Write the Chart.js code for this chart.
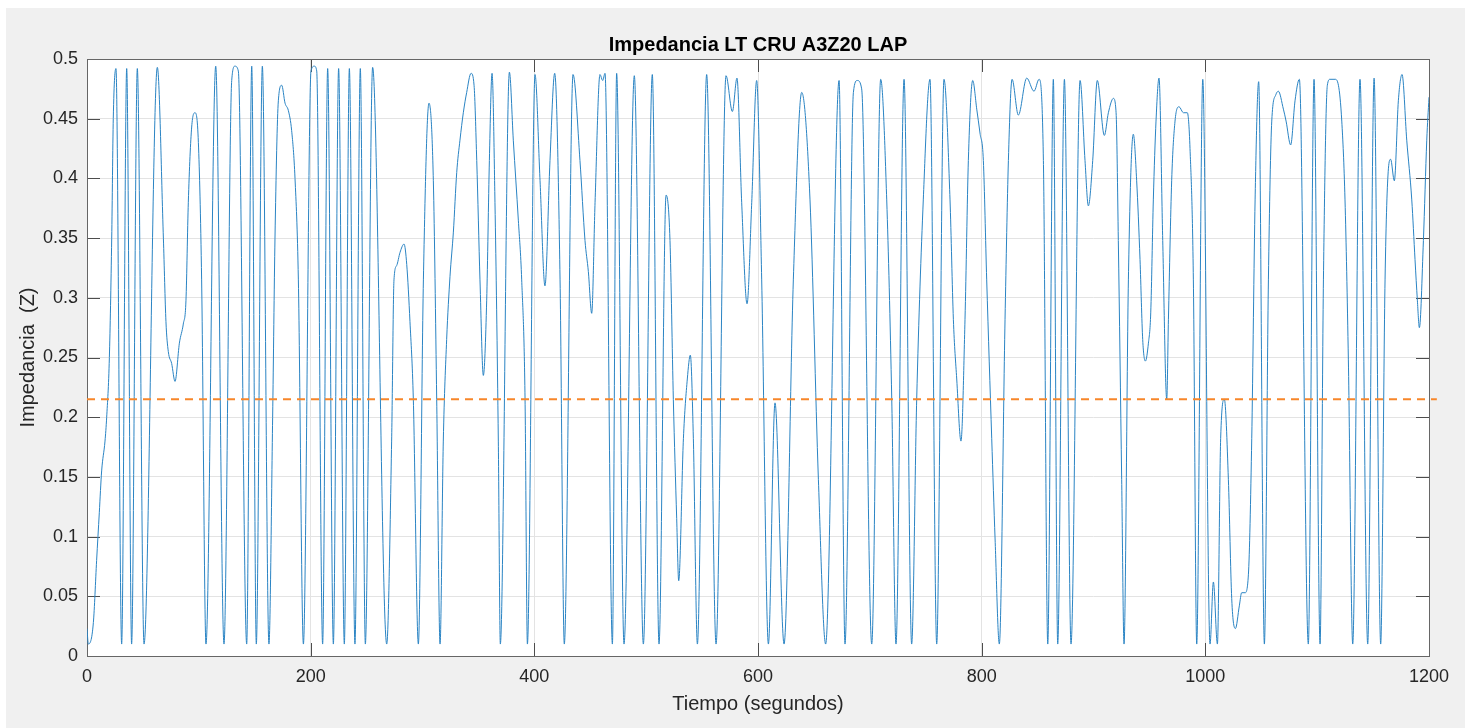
<!DOCTYPE html>
<html>
<head>
<meta charset="utf-8">
<script src="https://cdn.jsdelivr.net/npm/chart.js@4.4.0/dist/chart.umd.min.js"></script>
<style>
  html, body { margin: 0; padding: 0; background: #ffffff; }
  #fondo { position: absolute; left: 6px; top: 8px; width: 1459px; height: 720px; background: #f0f0f0; }
  #chart { position: absolute; left: 0; top: 0; }
</style>
</head>
<body>
<div id="fondo"></div>
<canvas id="chart" width="1465" height="728"></canvas>
<script>
// tiempo (s) e impedancia
const tiempo = [
  0, 1.2, 5.7, 8.6, 11.0, 13.1, 16.1, 17.6, 20.0, 22.1, 23.5, 25.9, 31.0, 35.5, 39.9, 45.0, 51.0,
  62.9, 68.3, 70.6, 72.7, 75.7, 78.7, 82.6, 86.1, 88.5, 90.6, 93.6, 96.6, 99.6, 102.5, 106.4,
  115.1, 122.5, 129.4, 132.3, 135.3, 142.8, 147.3, 151.4, 156.8, 162.7,
  166.0, 168.1, 171.1, 174.1, 177.1, 180.0, 183.0, 186.0, 189.0, 193.5,
  200.3, 203.3, 205.4, 210.7, 215.2, 220.3, 225.0, 230.1, 234.6, 239.6, 244.4, 248.9, 255.4, 268.0,
  272.4, 274.5, 276.9, 279.9, 283.5, 285.9, 288.8, 291.8, 296.3,
  300.8, 305.8, 309.7, 312.7, 315.7, 318.6, 321.6, 324.6, 327.6, 330.6, 333.5, 336.5, 339.5, 343.4,
  346.1, 348.5, 351.4, 354.4, 357.4, 359.8, 362.2, 364.8, 367.8, 369.6,
  377.7, 381.2, 385.7, 388.7, 391.7, 393.8, 400.6, 405.1, 409.5, 414.0, 418.2, 423.0, 426.8,
  434.6, 440.8, 445.3, 448.3, 451.3, 454.3, 458.7, 461.1, 463.2, 469.8, 473.6, 480.2, 489.4, 497.5,
  505.5, 511.5, 517.8, 521.3, 524.3, 527.3, 529.1, 533.3, 536.8, 539.5, 542.2, 545.8,
  554.1, 562.5, 571.4, 577.1, 581.2, 585.4, 590.2, 594.4, 598.8, 603.3, 609.3,
  615.2, 623.3, 631.6, 639.1, 646.5, 654.0, 660.5, 672.5, 677.8, 685.3, 688.8, 692.7, 701.7,
  709.7, 715.1, 719.6, 723.4, 730.6, 737.4, 741.9, 747.8, 753.8, 759.8,
  766.3, 771.7, 774.7, 777.7, 781.5, 785.1, 788.1, 792.0, 795.6, 798.5, 801.5, 804.5, 809.0, 812.0, 815.8,
  820.9, 823.9, 827.2, 832.8, 840.3, 846.8, 851.3, 855.2, 859.1, 864.1, 868.0, 874.0, 879.9,
  888.0, 892.4, 895.4, 899.3, 903.4, 909.7, 913.3, 917.8, 920.2, 922.2, 925.2, 927.3,
  931.2, 935.6, 938.6, 941.6, 944.0, 946.4, 949.1, 951.2, 953.5, 955.9, 958.6, 961.9, 965.5,
  967.0, 969.9, 972.9, 976.5, 980.4, 983.9, 986.3, 989.3, 992.3,
  997.7, 1004.2, 1007.2, 1010.8, 1013.7, 1017.0, 1020.6, 1023.6, 1026.9, 1030.4, 1032.5, 1035.5,
  1038.5, 1041.5, 1044.5, 1047.7, 1052.8, 1056.4, 1059.4, 1063.0, 1065.3, 1069.8, 1072.2, 1076.3,
  1080.2, 1084.1, 1092.1, 1097.2, 1102.6, 1105.6, 1109.1, 1111.5, 1116.0, 1119.0, 1122.0, 1124.9,
  1127.9, 1131.8, 1138.3, 1145.2, 1150.9, 1156.8, 1160.7, 1163.7, 1165.7, 1169.0, 1172.6, 1175.9,
  1180.1, 1184.6, 1187.5, 1189.6, 1191.4, 1195.0, 1198.0, 1200
];
const impedancia = [
  0.023, 0.01, 0.028, 0.08, 0.12, 0.155, 0.18, 0.2, 0.25, 0.35, 0.45, 0.492, 0.01, 0.492, 0.01, 0.492, 0.01,
  0.493, 0.35, 0.28, 0.255, 0.245, 0.23, 0.262, 0.278, 0.298, 0.38, 0.443, 0.455, 0.43, 0.315, 0.01,
  0.494, 0.01, 0.482, 0.494, 0.49, 0.01, 0.494, 0.01, 0.494, 0.01,
  0.2, 0.35, 0.465, 0.478, 0.463, 0.457, 0.44, 0.40, 0.315, 0.01,
  0.49, 0.494, 0.49, 0.01, 0.492, 0.01, 0.492, 0.01, 0.492, 0.01, 0.492, 0.01, 0.493, 0.01,
  0.18, 0.315, 0.327, 0.338, 0.345, 0.328, 0.28, 0.215, 0.01,
  0.315, 0.463, 0.398, 0.215, 0.01, 0.18, 0.265, 0.318, 0.355, 0.405, 0.432, 0.455, 0.472, 0.488,
  0.478, 0.415, 0.315, 0.235, 0.298, 0.415, 0.488, 0.38, 0.18, 0.01,
  0.489, 0.432, 0.365, 0.315, 0.215, 0.01, 0.487, 0.398, 0.31, 0.415, 0.488, 0.315, 0.01,
  0.487, 0.415, 0.348, 0.322, 0.287, 0.38, 0.487, 0.482, 0.488, 0.01, 0.488, 0.01, 0.486, 0.01,
  0.487, 0.01, 0.386, 0.348, 0.215, 0.115, 0.063, 0.182, 0.232, 0.252, 0.182, 0.01,
  0.487, 0.01, 0.486, 0.456, 0.484, 0.38, 0.295, 0.38, 0.482, 0.315, 0.01,
  0.212, 0.01, 0.315, 0.472, 0.382, 0.148, 0.01, 0.482, 0.01, 0.472, 0.482, 0.475, 0.01,
  0.483, 0.382, 0.215, 0.01, 0.483, 0.01, 0.215, 0.382, 0.483, 0.01,
  0.483, 0.382, 0.282, 0.232, 0.18, 0.282, 0.415, 0.482, 0.458, 0.438, 0.415, 0.315, 0.182, 0.098, 0.01,
  0.282, 0.415, 0.483, 0.453, 0.484, 0.473, 0.483, 0.415, 0.01, 0.483, 0.01, 0.483, 0.01,
  0.482, 0.415, 0.377, 0.415, 0.482, 0.436, 0.455, 0.467, 0.455, 0.348, 0.148, 0.01,
  0.315, 0.437, 0.398, 0.332, 0.265, 0.247, 0.262, 0.288, 0.382, 0.448, 0.484, 0.348, 0.215,
  0.282, 0.398, 0.448, 0.46, 0.455, 0.455, 0.425, 0.315, 0.01,
  0.483, 0.01, 0.062, 0.01, 0.182, 0.215, 0.148, 0.048, 0.023, 0.042, 0.053, 0.053,
  0.068, 0.182, 0.382, 0.481, 0.01, 0.315, 0.448, 0.47, 0.473, 0.458, 0.448, 0.428,
  0.465, 0.483, 0.01, 0.483, 0.01, 0.315, 0.478, 0.483, 0.483, 0.478, 0.448, 0.382,
  0.248, 0.01, 0.483, 0.01, 0.484, 0.01, 0.315, 0.408, 0.416, 0.398, 0.465, 0.487,
  0.432, 0.382, 0.332, 0.298, 0.275, 0.348, 0.432, 0.468
];
// linea de referencia (umbral)
const umbralX = [0, 1207];
const umbralY = [0.215, 0.215];

const xTickValues = [0, 200, 400, 600, 800, 1000, 1200];
const xTickLabels = ['0', '200', '400', '600', '800', '1000', '1200'];
const yTickLabels = ['0', '0.05', '0.1', '0.15', '0.2', '0.25', '0.3', '0.35', '0.4', '0.45', '0.5'];

const textColor = '#262626';
const fontFamily = '"Liberation Sans", Arial, Helvetica, sans-serif';

// fondo blanco del area, caja y marcas hacia dentro (estilo MATLAB)
const cajaPlugin = {
  id: 'caja',
  beforeDraw(chart) {
    const a = chart.chartArea;
    const ctx = chart.ctx;
    ctx.save();
    ctx.fillStyle = '#ffffff';
    ctx.fillRect(a.left, a.top, a.right - a.left, a.bottom - a.top);
    ctx.restore();
  },
  beforeDatasetsDraw(chart) {
    const a = chart.chartArea;
    const ctx = chart.ctx;
    const xs = chart.scales.x, ys = chart.scales.y;
    const len = 13;
    ctx.save();
    ctx.strokeStyle = '#4d4d4d';
    ctx.lineWidth = 1;
    ctx.beginPath();
    xs.ticks.forEach(t => {
      const px = Math.round(xs.getPixelForValue(t.value)) + 0.5;
      ctx.moveTo(px, a.bottom); ctx.lineTo(px, a.bottom - len);
      ctx.moveTo(px, a.top); ctx.lineTo(px, a.top + len);
    });
    ys.ticks.forEach(t => {
      const py = Math.round(ys.getPixelForValue(t.value)) + 0.5;
      ctx.moveTo(a.left, py); ctx.lineTo(a.left + len, py);
      ctx.moveTo(a.right, py); ctx.lineTo(a.right - len, py);
    });
    ctx.stroke();
    ctx.strokeStyle = '#666666';
    ctx.strokeRect(Math.round(a.left) + 0.5, Math.round(a.top) + 0.5,
      Math.round(a.right - a.left), Math.round(a.bottom - a.top));
    ctx.restore();
  }
};

new Chart(document.getElementById('chart'), {
  type: 'line',
  data: {
    datasets: [
      {
        label: 'Umbral',
        data: umbralX.map((x, i) => ({ x: x, y: umbralY[i] })),
        borderColor: '#F7862A',
        borderWidth: 2,
        borderDash: [8, 6],
        pointRadius: 0,
        fill: false,
        clip: false,
        order: 0
      },
      {
        label: 'Impedancia',
        data: tiempo.map((t, i) => ({ x: t, y: impedancia[i] })),
        borderColor: '#2a84c4',
        borderWidth: 1,
        pointRadius: 0,
        fill: false,
        cubicInterpolationMode: 'monotone',
        order: 1
      }
    ]
  },
  options: {
    responsive: false,
    animation: false,
    devicePixelRatio: 1,
    layout: { padding: { left: 0, right: 36, top: 0, bottom: 0 } },
    plugins: {
      legend: { display: false },
      tooltip: { enabled: false },
      title: {
        display: true,
        fullSize: false,
        text: 'Impedancia LT CRU A3Z20 LAP',
        color: '#000000',
        font: { family: fontFamily, size: 20, weight: 'bold' },
        padding: { top: 33, bottom: 2 }
      }
    },
    scales: {
      x: {
        type: 'linear',
        min: 0,
        max: 1200,
        afterFit: s => { s.height = 72; },
        afterBuildTicks: s => { s.ticks = xTickValues.map(v => ({ value: v })); },
        ticks: {
          color: textColor,
          font: { family: fontFamily, size: 18 },
          padding: 10,
          maxRotation: 0,
          callback: (v, i) => xTickLabels[i]
        },
        grid: { color: '#e3e3e3', drawTicks: false },
        border: { display: false },
        title: {
          display: true,
          text: 'Tiempo (segundos)',
          color: textColor,
          font: { family: fontFamily, size: 20 },
          padding: { top: 0, bottom: 12 }
        }
      },
      y: {
        min: 0,
        max: 0.5,
        afterFit: s => { s.width = 87; },
        ticks: {
          stepSize: 0.05,
          color: textColor,
          font: { family: fontFamily, size: 18 },
          padding: 9,
          callback: (v, i) => yTickLabels[i]
        },
        grid: { color: '#e3e3e3', drawTicks: false },
        border: { display: false },
        title: {
          display: true,
          text: 'Impedancia  (Z)',
          color: textColor,
          font: { family: fontFamily, size: 20 },
          padding: { top: 16, bottom: 0 }
        }
      }
    }
  },
  plugins: [cajaPlugin]
});
</script>
</body>
</html>
